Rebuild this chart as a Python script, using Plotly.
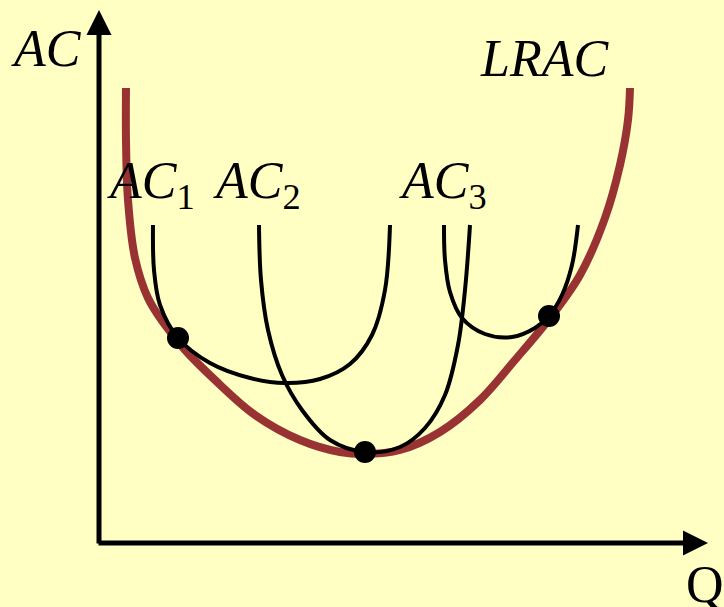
import plotly.graph_objects as go

# curve points (pixel coordinates, y grows downward)
lrac_x = [126, 126, 128, 135, 148, 165, 185, 215, 255, 300, 340, 365, 400, 440, 480, 515, 550, 580, 605, 620, 628, 630]
lrac_y = [88, 140, 200, 258, 298, 325, 350, 380, 415, 440, 452, 454, 450, 432, 400, 360, 318, 275, 218, 165, 120, 88]

ac1_x = [153, 154, 160, 178, 210, 250, 285, 320, 350, 372, 385, 390]
ac1_y = [225, 270, 305, 338, 363, 378, 383, 379, 364, 335, 290, 225]

ac2_x = [259, 261, 268, 282, 302, 330, 365, 400, 425, 445, 458, 465, 470]
ac2_y = [225, 280, 330, 375, 410, 440, 452, 447, 428, 395, 345, 290, 225]

ac3_x = [444, 445, 450, 462, 485, 512, 535, 549, 562, 572, 578]
ac3_y = [225, 260, 292, 318, 334, 337, 328, 316, 295, 265, 225]

dot_x = [178, 365, 549]
dot_y = [338, 452, 316]

labels = ["<i>AC</i>", "<i>LRAC</i>", "<i>AC</i><sub>1</sub>", "<i>AC</i><sub>2</sub>", "<i>AC</i><sub>3</sub>", "Q"]
label_x = [46, 544, 151, 257, 443, 705]
label_y = [48, 58, 184, 184, 184, 584]

BG = "#FFFFC4"
RED = "#993333"
FONT = "Liberation Serif"

fig = go.Figure()

fig.add_trace(go.Scatter(x=lrac_x, y=lrac_y, mode="lines",
                         line=dict(color=RED, width=8, shape="spline", smoothing=1.0)))
for cx, cy in [(ac1_x, ac1_y), (ac2_x, ac2_y), (ac3_x, ac3_y)]:
    fig.add_trace(go.Scatter(x=cx, y=cy, mode="lines",
                             line=dict(color="black", width=4, shape="spline", smoothing=1.0)))
fig.add_trace(go.Scatter(x=dot_x, y=dot_y, mode="markers",
                         marker=dict(color="black", size=22)))

# axes with arrow heads
fig.add_annotation(x=99, y=10, ax=99, ay=545, xref="x", yref="y", axref="x", ayref="y",
                   showarrow=True, arrowhead=2, arrowsize=1, arrowwidth=5, arrowcolor="black", text="")
fig.add_annotation(x=708, y=543, ax=97, ay=543, xref="x", yref="y", axref="x", ayref="y",
                   showarrow=True, arrowhead=2, arrowsize=1, arrowwidth=5, arrowcolor="black", text="")

for t, lx, ly in zip(labels, label_x, label_y):
    fig.add_annotation(x=lx, y=ly, text=t, showarrow=False, xanchor="center", yanchor="middle",
                       font=dict(family=FONT, size=52, color="black"))

fig.update_layout(
    width=724, height=607,
    margin=dict(l=0, r=0, t=0, b=0),
    paper_bgcolor=BG, plot_bgcolor=BG,
    showlegend=False,
    xaxis=dict(range=[0, 724], visible=False, fixedrange=True),
    yaxis=dict(range=[607, 0], visible=False, fixedrange=True),
)

fig.write_html("out.html", config={"displayModeBar": False},
               post_script="document.body.style.margin='0';")
